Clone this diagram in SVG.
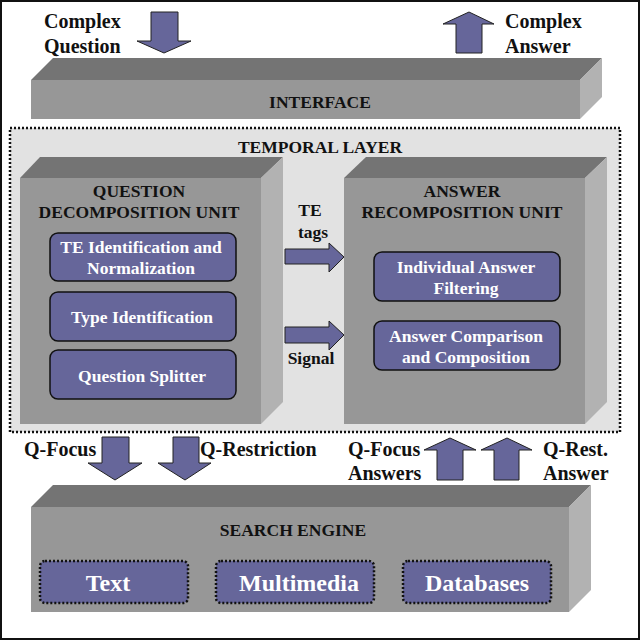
<svg xmlns="http://www.w3.org/2000/svg" width="640" height="640" viewBox="0 0 640 640">
<style>
text{font-family:"Liberation Serif","Times New Roman",serif;font-weight:bold}
.top{fill:#747474}.front{fill:#979797}.side{fill:#b2b2b2}
.lbl{font-size:20px;fill:#111}
.ttl{font-size:17.5px;fill:#111;text-anchor:middle}
.box{fill:#66669a;stroke:#111;stroke-width:1.5}
.dbox{fill:#66669a;stroke:#111;stroke-width:2.5;stroke-dasharray:2 2}
.bt{font-size:17.5px;fill:#fff;text-anchor:middle}
.bt2{font-size:24px;fill:#fff;text-anchor:middle}
.arr{fill:#66669a;stroke:#222;stroke-width:1}
</style>
<rect x="0" y="0" width="640" height="640" fill="#fff"/>
<rect x="1" y="1" width="638" height="638" fill="none" stroke="#111" stroke-width="2"/>
<g id="interface">
<polygon class="top" points="31,80 53,58 602,58 580,80"/>
<polygon class="side" points="580,80 602,58 602,97 580,119"/>
<rect class="front" x="31" y="80" width="549" height="39"/>
<text class="ttl" x="320" y="108" font-size="16.5">INTERFACE</text>
</g>
<g id="temporal-layer">
<rect x="10" y="128" width="610" height="304" fill="#e2e2e2" stroke="#111" stroke-width="2.5" stroke-dasharray="2 2"/>
<text class="ttl" x="320" y="153">TEMPORAL LAYER</text>
</g>
<g id="qdu">
<polygon class="top" points="20,178 40,157 283,157 261,178"/>
<polygon class="side" points="261,178 283,157 283,402 261,424"/>
<rect class="front" x="20" y="178" width="241" height="246"/>
<text class="ttl" x="139" y="197">QUESTION</text>
<text class="ttl" x="139" y="218">DECOMPOSITION UNIT</text>
</g>
<g id="te-ident"><rect class="box" x="50" y="233" width="186" height="48" rx="8"/>
<text class="bt" x="141" y="253">TE Identification and</text><text class="bt" x="141" y="274">Normalization</text></g>
<g id="type-ident"><rect class="box" x="50" y="292" width="186" height="49" rx="8"/>
<text class="bt" x="142" y="323">Type Identification</text></g>
<g id="splitter"><rect class="box" x="50" y="350" width="186" height="49" rx="8"/>
<text class="bt" x="142" y="382">Question Splitter</text></g>
<g id="aru">
<polygon class="top" points="344,178 366,157 607,157 585,178"/>
<polygon class="side" points="585,178 607,157 607,402 585,424"/>
<rect class="front" x="344" y="178" width="241" height="246"/>
<text class="ttl" x="462" y="197">ANSWER</text>
<text class="ttl" x="462" y="218">RECOMPOSITION UNIT</text>
</g>
<g id="filtering"><rect class="box" x="374" y="252" width="186" height="49" rx="8"/>
<text class="bt" x="466" y="273">Individual Answer</text><text class="bt" x="466" y="294">Filtering</text></g>
<g id="comparison"><rect class="box" x="374" y="321" width="186" height="49" rx="8"/>
<text class="bt" x="466" y="342">Answer Comparison</text><text class="bt" x="466" y="363">and Composition</text></g>
<g id="search-engine">
<polygon class="top" points="31,507 53,485 591,485 569,507"/>
<polygon class="side" points="569,507 591,485 591,590 569,612"/>
<rect class="front" x="31" y="507" width="538" height="105"/>
<text class="ttl" x="293" y="536" font-size="16.5">SEARCH ENGINE</text>
</g>
<g id="text-src"><rect class="dbox" x="40" y="561" width="148" height="42" rx="5"/><text class="bt2" x="108" y="591">Text</text></g>
<g id="multimedia"><rect class="dbox" x="216" y="561" width="158" height="42" rx="5"/><text class="bt2" x="299" y="591">Multimedia</text></g>
<g id="databases"><rect class="dbox" x="403" y="561" width="148" height="42" rx="5"/><text class="bt2" x="477" y="591">Databases</text></g>
<g id="connectors">
<polygon class="arr" points="151,12 178,12 178,41 191,41 164,53 137,41 151,41"/>
<polygon class="arr" points="456,53 482,53 482,24 494,24 469,12 443,24 456,24"/>
<polygon class="arr" points="285,249 329,249 329,243 344,257 329,272 329,264 285,264"/>
<polygon class="arr" points="285,327 329,327 329,321 344,335 329,350 329,343 285,343"/>
<polygon class="arr" points="102,437 129,437 129,463 142,463 115,480 88,463 102,463"/>
<polygon class="arr" points="173,437 199,437 199,463 211,463 185,480 158,463 173,463"/>
<polygon class="arr" points="437,480 463,480 463,450 476,450 450,438 424,450 437,450"/>
<polygon class="arr" points="494,480 519,480 519,450 532,450 507,438 481,450 494,450"/>
</g>
<g id="labels">
<text class="lbl" x="44" y="28">Complex</text><text class="lbl" x="44" y="53">Question</text>
<text class="lbl" x="505" y="28">Complex</text><text class="lbl" x="505" y="53">Answer</text>
<text class="ttl" x="310" y="216">TE</text><text class="ttl" x="313" y="238">tags</text>
<text class="ttl" x="311" y="364">Signal</text>
<text class="lbl" x="24" y="456">Q-Focus</text>
<text class="lbl" x="200" y="456">Q-Restriction</text>
<text class="lbl" x="348" y="456">Q-Focus</text><text class="lbl" x="348" y="480">Answers</text>
<text class="lbl" x="543" y="456">Q-Rest.</text><text class="lbl" x="543" y="480">Answer</text>
</g>
</svg>
